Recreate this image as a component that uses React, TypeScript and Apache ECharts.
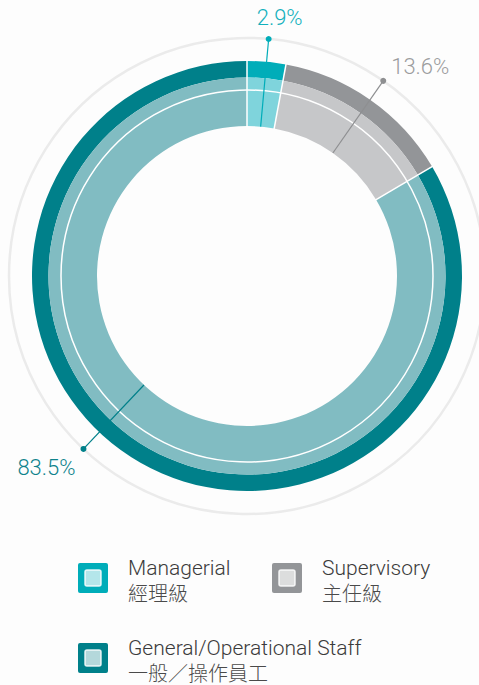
import React, { useEffect, useRef } from 'react';
import * as echarts from 'echarts';

// ---- data ----
const categoriesEn = ['Managerial', 'Supervisory', 'General/Operational Staff'];
const categoriesZh = ['經理級', '主任級', '一般／操作員工'];
const percentages = [2.9, 13.6, 83.5];
const percentLabels = ['2.9%', '13.6%', '83.5%'];

// ---- styles ----
const darkColors = ['#00adb9', '#939598', '#00808a'];
const lightColors = ['#7fd4dc', '#c6c7c9', '#81bcc2'];
const legendInner = ['#b4e6ea', '#dcdddd', '#b4d8db'];
const labelColors = ['#12b0bc', '#9b9c9e', '#0e838c'];
const leaderColors = ['#00adb9', '#8e8f91', '#00808a'];
const leaderShiftDeg = [0, 0, 13.7];
const labelOffsets = [
  [11, -21],
  [37, -14],
  [-37, 19],
];
const legendPos = [
  [78, 563],
  [272, 563],
  [78, 643],
];

export default function App() {
  const ref = useRef<HTMLDivElement>(null);

  useEffect(() => {
    document.body.style.margin = '0';
    const chart = echarts.init(ref.current!, null, { renderer: 'svg' });
    const cx = 247;
    const cy = 276;
    const R_HOLE = 150;
    const R_MID = 198.5;
    const R_OUT = 215;
    const R_WHITE = 186;
    const R_GUIDE = 238;

    const total = percentages.reduce((a, b) => a + b, 0);
    let cum = 0;
    const bounds: number[] = [];
    const mids: number[] = [];
    percentages.forEach((v) => {
      bounds.push((cum / total) * 360);
      mids.push(((cum + v / 2) / total) * 360);
      cum += v;
    });
    const pt = (deg: number, r: number) => {
      const a = (deg * Math.PI) / 180;
      return [cx + r * Math.sin(a), cy - r * Math.cos(a)];
    };

    const graphics: any[] = [];
    graphics.push({
      type: 'circle',
      silent: true,
      z: 1,
      shape: { cx, cy, r: R_GUIDE },
      style: { fill: 'none', stroke: '#ebebeb', lineWidth: 2.5 },
    });
    graphics.push({
      type: 'circle',
      silent: true,
      z: 100,
      shape: { cx, cy, r: R_WHITE },
      style: { fill: 'none', stroke: '#ffffff', lineWidth: 1.5 },
    });
    bounds.forEach((b) => {
      const [x1, y1] = pt(b, R_HOLE - 1);
      const [x2, y2] = pt(b, R_OUT + 1);
      graphics.push({
        type: 'line',
        silent: true,
        z: 101,
        shape: { x1, y1, x2, y2 },
        style: { stroke: '#ffffff', lineWidth: 1.5 },
      });
    });
    mids.forEach((m, i) => {
      const ang = m + leaderShiftDeg[i];
      const [x1, y1] = pt(ang, R_HOLE);
      const [x2, y2] = pt(ang, R_GUIDE);
      graphics.push({
        type: 'line',
        silent: true,
        z: 102,
        shape: { x1, y1, x2, y2 },
        style: { stroke: leaderColors[i], lineWidth: 1.2 },
      });
      graphics.push({
        type: 'circle',
        silent: true,
        z: 103,
        shape: { cx: x2, cy: y2, r: 3 },
        style: { fill: leaderColors[i] },
      });
      graphics.push({
        type: 'text',
        silent: true,
        z: 104,
        x: x2 + labelOffsets[i][0],
        y: y2 + labelOffsets[i][1],
        style: {
          text: percentLabels[i],
          fill: labelColors[i],
          fontSize: 22,
          fontFamily: 'Roboto',
          fontWeight: 300,
          align: 'center',
          verticalAlign: 'middle',
          textAlign: 'center',
          textVerticalAlign: 'middle',
        },
      });
    });

    categoriesEn.forEach((name, i) => {
      const [lx, ly] = legendPos[i];
      graphics.push({
        type: 'rect',
        silent: true,
        shape: { x: lx, y: ly, width: 30, height: 30, r: 2 },
        style: { fill: darkColors[i] },
      });
      graphics.push({
        type: 'rect',
        silent: true,
        shape: { x: lx + 7, y: ly + 7, width: 16, height: 16, r: 2 },
        style: { fill: legendInner[i], stroke: 'rgba(255,255,255,0.85)', lineWidth: 1.5 },
      });
      graphics.push({
        type: 'text',
        silent: true,
        x: lx + 50,
        y: ly + 5,
        style: {
          text: name,
          fill: '#3b3b3b',
          fontSize: 21,
          fontFamily: 'Roboto',
          fontWeight: 300,
          align: 'left',
          verticalAlign: 'middle',
          textAlign: 'left',
          textVerticalAlign: 'middle',
        },
      });
      graphics.push({
        type: 'text',
        silent: true,
        x: lx + 50,
        y: ly + 29,
        style: {
          text: categoriesZh[i],
          fill: '#4a4a4a',
          fontSize: 20,
          fontFamily: 'Noto Sans CJK TC',
          fontWeight: 300,
          align: 'left',
          verticalAlign: 'middle',
          textAlign: 'left',
          textVerticalAlign: 'middle',
        },
      });
    });

    const pieBase = {
      type: 'pie',
      center: [cx, cy],
      startAngle: 90,
      clockwise: true,
      silent: true,
      label: { show: false },
      labelLine: { show: false },
      emphasis: { disabled: true },
    };

    chart.setOption({
      animation: false,
      backgroundColor: '#fdfdfd',
      series: [
        {
          ...pieBase,
          radius: [R_MID, R_OUT],
          data: percentages.map((v, i) => ({
            value: v,
            name: categoriesEn[i],
            itemStyle: { color: darkColors[i], borderWidth: 0 },
          })),
        },
        {
          ...pieBase,
          radius: [R_HOLE, R_MID],
          data: percentages.map((v, i) => ({
            value: v,
            name: categoriesEn[i],
            itemStyle: { color: lightColors[i], borderWidth: 0 },
          })),
        },
      ],
      graphic: graphics,
    });

    return () => chart.dispose();
  }, []);

  return <div ref={ref} style={{ width: 479, height: 685 }} />;
}
